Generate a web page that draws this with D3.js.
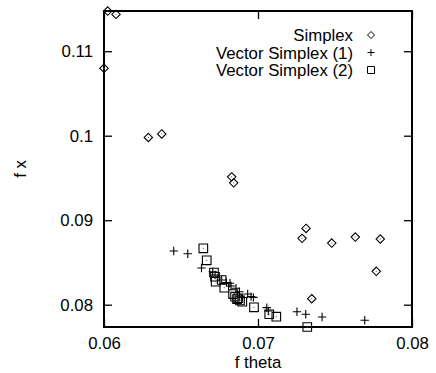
<!DOCTYPE html>
<html><head><meta charset="utf-8">
<script src="https://cdn.jsdelivr.net/npm/d3@7"></script>
<style>
html,body{margin:0;padding:0;background:#fff;}
svg{display:block;font-family:"Liberation Sans",Arial,Helvetica,sans-serif;}
</style></head>
<body>
<svg id="c" width="436" height="373"></svg>
<script>
// ---- data ----
const seriesNames = ["Simplex", "Vector Simplex (1)", "Vector Simplex (2)"];
const simplexX = [0.06, 0.06024, 0.06078, 0.06288, 0.06375, 0.06829, 0.06842, 0.07312, 0.07286, 0.07479, 0.07632, 0.07794, 0.07768, 0.07349];
const simplexY = [0.10798, 0.11475, 0.11436, 0.09979, 0.10021, 0.09513, 0.09442, 0.08903, 0.08785, 0.08729, 0.08800, 0.08777, 0.08395, 0.08071];
const vs1X = [0.06453, 0.06544, 0.06633, 0.06706, 0.06721, 0.06764, 0.06795, 0.06818, 0.06825, 0.06857, 0.06879, 0.06933, 0.06955, 0.06970, 0.07057, 0.07067, 0.07253, 0.07310, 0.07416, 0.07693];
const vs1Y = [0.08635, 0.08603, 0.08434, 0.08390, 0.08351, 0.08292, 0.08262, 0.08253, 0.08221, 0.08194, 0.08154, 0.08126, 0.08095, 0.08087, 0.07965, 0.07926, 0.07917, 0.07887, 0.07855, 0.07816];
const vs2X = [0.06645, 0.06667, 0.06714, 0.06721, 0.06725, 0.06764, 0.06781, 0.06838, 0.06851, 0.06864, 0.06872, 0.06883, 0.06898, 0.06974, 0.07073, 0.07119, 0.07320];
const vs2Y = [0.08667, 0.08525, 0.08381, 0.08331, 0.08272, 0.08292, 0.08201, 0.08126, 0.08095, 0.08067, 0.08076, 0.08050, 0.08035, 0.07969, 0.07887, 0.07858, 0.07736];
const xTicks = [0.06, 0.07, 0.08];
const yTicks = [0.08, 0.09, 0.1, 0.11];
const xLabel = "f theta";
const yLabel = "f x";

// ---- layout ----
const L = 104, R = 412, T = 11, B = 327;
const svg = d3.select("#c");
svg.append("rect").attr("width", 436).attr("height", 373).attr("fill", "#fff");

const x = d3.scaleLinear().domain([0.06, 0.08]).range([L, R]);
const y = d3.scaleLinear().domain([0.07736, 0.11476]).range([B, T]);

const fmt = d => String(+d.toFixed(2));
const FS = "16.8px";

function styleAxis(g) {
  g.select(".domain").remove();
  g.selectAll(".tick line").attr("stroke", "#000").attr("stroke-width", 1.3);
  g.selectAll(".tick text").attr("fill", "#000").style("font-size", FS);
}

svg.append("g").attr("transform", `translate(${L},0)`)
  .call(d3.axisLeft(y).tickValues(yTicks).tickFormat(fmt).tickSizeInner(-8).tickSizeOuter(0).tickPadding(11))
  .call(styleAxis);
svg.append("g").attr("transform", `translate(${R},0)`)
  .call(d3.axisRight(y).tickValues(yTicks).tickFormat("").tickSizeInner(-8).tickSizeOuter(0))
  .call(styleAxis);
svg.append("g").attr("transform", `translate(0,${B})`)
  .call(d3.axisBottom(x).tickValues(xTicks).tickFormat(fmt).tickSizeInner(-8).tickSizeOuter(0).tickPadding(10))
  .call(styleAxis);
svg.append("g").attr("transform", `translate(0,${T})`)
  .call(d3.axisTop(x).tickValues(xTicks).tickFormat("").tickSizeInner(-8).tickSizeOuter(0))
  .call(styleAxis);

svg.append("rect").attr("x", L).attr("y", T).attr("width", R - L).attr("height", B - T)
  .attr("fill", "none").attr("stroke", "#000").attr("stroke-width", 2);

// axis labels
svg.append("text").attr("x", (L + R) / 2).attr("y", 368).attr("text-anchor", "middle")
  .style("font-size", FS).text(xLabel);
svg.append("text").attr("transform", `translate(26,${(T + B) / 2}) rotate(-90)`).attr("text-anchor", "middle")
  .style("font-size", FS).text(yLabel);

// markers
const diamond = (cx, cy, s) => `M${cx},${cy - s}L${cx + s},${cy}L${cx},${cy + s}L${cx - s},${cy}Z`;
const plus = (cx, cy, s) => `M${cx - s},${cy}H${cx + s}M${cx},${cy - s}V${cy + s}`;
const square = (cx, cy, s) => `M${cx - s},${cy - s}H${cx + s}V${cy + s}H${cx - s}Z`;

const plot = svg.append("g");
function drawSeries(xs, ys, shape, s, dot) {
  const data = xs.map((v, i) => [v, ys[i]]);
  plot.append("g").selectAll("path").data(data).join("path")
    .attr("d", d => shape(x(d[0]), y(d[1]), s))
    .attr("fill", "none").attr("stroke", "#000").attr("stroke-width", 1.1);
  if (dot) {
    plot.append("g").selectAll("rect").data(data).join("rect")
      .attr("x", d => x(d[0]) - 0.5).attr("y", d => y(d[1]) - 0.5)
      .attr("width", 1).attr("height", 1).attr("fill", "#555");
  }
}
drawSeries(simplexX, simplexY, diamond, 4.2, true);
drawSeries(vs1X, vs1Y, plus, 4.2, false);
drawSeries(vs2X, vs2Y, square, 4.3, true);

// legend
const legShapes = [[diamond, 3.5], [plus, 3.5], [square, 3.5]];
const legend = svg.append("g");
seriesNames.forEach((n, i) => {
  const cy = 35 + i * 17.5;
  legend.append("text").attr("x", 353).attr("y", cy + 6).attr("text-anchor", "end")
    .style("font-size", FS).text(n);
  legend.append("path").attr("d", legShapes[i][0](371, cy, legShapes[i][1]))
    .attr("fill", "none").attr("stroke", "#000").attr("stroke-width", 1);
});
</script>
</body></html>
